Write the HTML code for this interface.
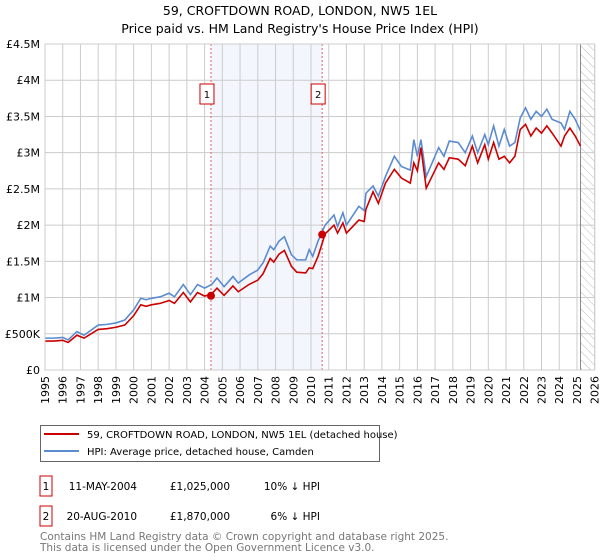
<!DOCTYPE html>
<html><head><meta charset="utf-8"><style>
body{margin:0;background:#fff;font-family:"DejaVu Sans","Liberation Sans",sans-serif;}
svg{display:block}
</style></head><body>
<svg id="c" width="600" height="560" xmlns="http://www.w3.org/2000/svg" font-family="DejaVu Sans, Liberation Sans, sans-serif">
<text x="300" y="15" text-anchor="middle" font-size="12.5">59, CROFTDOWN ROAD, LONDON, NW5 1EL</text>
<text x="300" y="33" text-anchor="middle" font-size="12.5">Price paid vs. HM Land Registry's House Price Index (HPI)</text>
<defs><pattern id="hatch" width="6" height="6" patternUnits="userSpaceOnUse" patternTransform="rotate(-45)"><line x1="0" y1="0" x2="0" y2="6" stroke="#bbb" stroke-width="1"/></pattern></defs>
<g id="plot"></g>
<g>
<rect x="40.5" y="425.5" width="339" height="36" fill="#fff" stroke="#666"/>
<line x1="44" y1="434" x2="79" y2="434" stroke="#cc0000" stroke-width="2"/>
<text x="87" y="438" font-size="10">59, CROFTDOWN ROAD, LONDON, NW5 1EL (detached house)</text>
<line x1="44" y1="451" x2="79" y2="451" stroke="#5b8bd0" stroke-width="2"/>
<text x="87" y="455" font-size="10">HPI: Average price, detached house, Camden</text>
</g>
<g font-size="10.5">
<rect x="40" y="476" width="12" height="20" fill="none" stroke="#cc0000"/>
<text x="46" y="490" text-anchor="middle">1</text>
<text x="137" y="490" text-anchor="end">11-MAY-2004</text>
<text x="230" y="490" text-anchor="end">£1,025,000</text>
<text x="320" y="490" text-anchor="end">10% ↓ HPI</text>
<rect x="40" y="506" width="12" height="20" fill="none" stroke="#cc0000"/>
<text x="46" y="520" text-anchor="middle">2</text>
<text x="137" y="520" text-anchor="end">20-AUG-2010</text>
<text x="230" y="520" text-anchor="end">£1,870,000</text>
<text x="320" y="520" text-anchor="end">6% ↓ HPI</text>
</g>
<text x="40" y="540" font-size="10.5" fill="#777">Contains HM Land Registry data © Crown copyright and database right 2025.</text>
<text x="40" y="551" font-size="10.5" fill="#777">This data is licensed under the Open Government Licence v3.0.</text>
</svg>
<script>
const hpiYears=[1995,1995.5,1996,1996.3,1996.8,1997.2,1998,1998.5,1999,1999.5,2000,2000.4,2000.7,2001,2001.5,2002,2002.3,2002.8,2003.2,2003.6,2004,2004.4,2004.7,2005.1,2005.6,2005.9,2006.5,2007,2007.3,2007.7,2007.9,2008.2,2008.5,2008.9,2009.2,2009.7,2009.9,2010.1,2010.4,2010.8,2011.3,2011.5,2011.8,2012.0,2012.7,2013.0,2013.1,2013.5,2013.8,2014.2,2014.7,2015.1,2015.6,2015.8,2016.0,2016.2,2016.5,2017.2,2017.5,2017.8,2018.3,2018.7,2019.1,2019.4,2019.8,2020.0,2020.3,2020.6,2020.9,2021.2,2021.5,2021.8,2022.1,2022.4,2022.7,2023.0,2023.3,2023.6,2024.1,2024.3,2024.6,2024.9,2025.2];
const hpiValues=[0.44,0.44,0.45,0.415,0.53,0.48,0.62,0.63,0.65,0.69,0.83,0.99,0.97,0.99,1.01,1.06,1.01,1.18,1.04,1.18,1.13,1.18,1.27,1.15,1.29,1.2,1.31,1.38,1.48,1.71,1.66,1.78,1.84,1.59,1.52,1.52,1.66,1.57,1.78,2.0,2.14,1.98,2.17,2.0,2.26,2.2,2.44,2.54,2.4,2.67,2.95,2.81,2.76,3.18,2.95,3.18,2.67,3.07,2.95,3.16,3.14,3.0,3.23,3.0,3.25,3.11,3.37,3.09,3.32,3.09,3.14,3.48,3.62,3.46,3.57,3.5,3.6,3.46,3.41,3.32,3.57,3.46,3.3];
const ppYears=hpiYears;
const ppValues=[0.40,0.40,0.41,0.38,0.48,0.44,0.56,0.57,0.59,0.62,0.75,0.90,0.88,0.90,0.92,0.96,0.92,1.07,0.94,1.07,1.02,1.05,1.13,1.03,1.16,1.08,1.18,1.24,1.33,1.54,1.49,1.60,1.65,1.43,1.35,1.34,1.41,1.40,1.57,1.88,2.0,1.89,2.03,1.89,2.07,2.05,2.22,2.46,2.3,2.58,2.77,2.65,2.58,2.86,2.75,3.07,2.51,2.86,2.77,2.93,2.91,2.82,3.09,2.86,3.11,2.91,3.14,2.91,2.95,2.86,2.95,3.32,3.39,3.23,3.34,3.27,3.37,3.27,3.09,3.23,3.34,3.23,3.09];
const saleYears=[2004.36,2010.63];
const saleValues=[1.025,1.87];
const saleLabels=["1","2"];
const yTicks=[0,0.5,1,1.5,2,2.5,3,3.5,4,4.5];
const yTickLabels=["£0","£500K","£1M","£1.5M","£2M","£2.5M","£3M","£3.5M","£4M","£4.5M"];
const xTicks=[1995,1996,1997,1998,1999,2000,2001,2002,2003,2004,2005,2006,2007,2008,2009,2010,2011,2012,2013,2014,2015,2016,2017,2018,2019,2020,2021,2022,2023,2024,2025,2026];
const L=45,R=594.7,T=44,B=370,x0=1995,x1=2026,yMax=4.5;
const X=v=>L+(v-x0)/(x1-x0)*(R-L);
const Y=v=>B-v/yMax*(B-T);
const NS="http://www.w3.org/2000/svg";
const g=document.getElementById('plot');
function mk(t,a,p){const e=document.createElementNS(NS,t);for(const k in a)e.setAttribute(k,a[k]);(p||g).appendChild(e);return e;}
let e;
e=mk('rect',{x:X(saleYears[0]),y:T,width:X(saleYears[1])-X(saleYears[0]),height:B-T,fill:'#f3f6fd'});


e=mk('rect',{x:X(2025.2),y:T,width:R-X(2025.2),height:B-T,fill:'url(#hatch)'});


yTicks.forEach((v,i)=>{
 e=mk('line',{x1:L,x2:R,y1:Y(v),y2:Y(v),stroke:'#ccc','stroke-width':1});
 
 
 e=mk('text',{x:L-5,y:Y(v)+4,'text-anchor':'end','font-size':'11'});e.textContent=yTickLabels[i];
 
 
});
xTicks.forEach(v=>{
 e=mk('line',{x1:X(v),x2:X(v),y1:T,y2:B,stroke:'#ccc','stroke-width':1});
 
 
 e=mk('text',{x:0,y:0,'font-size':'11','text-anchor':'end',transform:`translate(${X(v)+4},${B+6}) rotate(-90)`});e.textContent=v;
 
 
});
e=mk('line',{x1:X(2025.2),x2:X(2025.2),y1:T,y2:B,stroke:'#888','stroke-width':1});


saleYears.forEach((s,i)=>{
 e=mk('line',{x1:X(s),x2:X(s),y1:T,y2:B,stroke:'#e06060','stroke-dasharray':'2,2','stroke-width':1});
 
 
 e=mk('rect',{x:X(s)-11,y:84,width:14,height:20,fill:'#fff',stroke:'#cc0000'});
 
 
 e=mk('text',{x:X(s)-4,y:98,'text-anchor':'middle','font-size':'10'});e.textContent=saleLabels[i];
 
 
});
e=mk('polyline',{points:hpiYears.map((y,i)=>X(y)+','+Y(hpiValues[i])).join(' '),fill:'none',stroke:'#5b8bd0','stroke-width':1.6});


e=mk('polyline',{points:ppYears.map((y,i)=>X(y)+','+Y(ppValues[i])).join(' '),fill:'none',stroke:'#cc0000','stroke-width':1.6});


saleYears.forEach((s,i)=>{
 e=mk('circle',{cx:X(s),cy:Y(saleValues[i]),r:4,fill:'#cc0000'});
 
 
});
e=mk('rect',{x:L,y:T,width:R-L,height:B-T,fill:'none',stroke:'#ccc'});


</script>
</body></html>
